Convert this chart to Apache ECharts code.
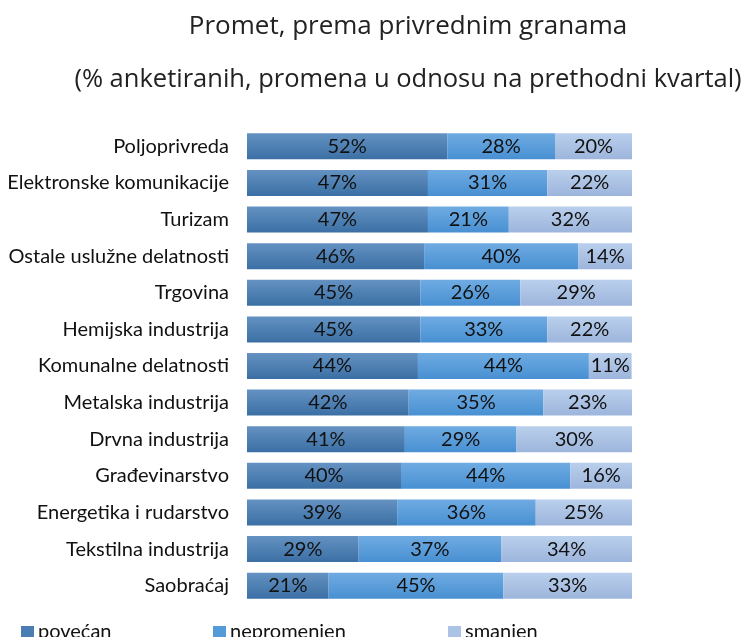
<!DOCTYPE html>
<html><head><meta charset="utf-8">
<script src="https://cdn.jsdelivr.net/npm/echarts@6/dist/echarts.min.js"></script>
<style>html,body{margin:0;padding:0;background:#fff}#c{width:742px;height:637px}</style>
</head><body><div id="c"></div>
<script>
const categories = ["Poljoprivreda","Elektronske komunikacije","Turizam","Ostale uslužne delatnosti","Trgovina","Hemijska industrija","Komunalne delatnosti","Metalska industrija","Drvna industrija","Građevinarstvo","Energetika i rudarstvo","Tekstilna industrija","Saobraćaj"];
const povecan    = [52,47,47,46,45,45,44.4,42,41,40,39,29,21.2];
const nepromenjen= [28,31,21,40,26,33,44.4,35,29,44,36,37,45.4];
const smanjen    = [20,22,32,14,29,22,11.1,23,30,16,25,34,33.4];
const seriesNames = ["povećan","nepromenjen","smanjen"];

const grad = (a,b)=>new echarts.graphic.LinearGradient(0,0,0,1,[{offset:0,color:a},{offset:1,color:b}]);
const styles = [
  {fill:grad('#6492c2','#3b6fa4'), solid:'#4a7db4'},
  {fill:grad('#6fabe2','#4890d2'), solid:'#559ad8'},
  {fill:grad('#b9cfec','#9db5dc'), solid:'#adc3e6'}
];
const chart = echarts.init(document.getElementById('c'));
const lbl = {show:true, position:'inside', color:'#111', fontFamily:'Lato', fontSize:20,
  formatter: p => Math.round(p.value)+'%'};
const mk = (name,data,i)=>({name, type:'bar', stack:'t', data, barWidth:26,
  itemStyle:{color:styles[i].fill}, label:lbl, emphasis:{disabled:true}});
const legendLeft = [21,213,448];
chart.setOption({
  animation:false,
  title:[
    {text:'Promet, prema privrednim granama', left:403, textAlign:'center', top:9,
     textStyle:{fontFamily:'Open Sans', fontWeight:'normal', fontSize:26, color:'#222'}},
    {text:'(% anketiranih, promena u odnosu na prethodni kvartal)', left:403, textAlign:'center', top:62,
     textStyle:{fontFamily:'Open Sans', fontWeight:'normal', fontSize:25.5, color:'#222'}}
  ],
  legend: seriesNames.map((n,i)=>({left:legendLeft[i], top:622, padding:0, itemWidth:13, itemHeight:12, icon:'rect',
    textStyle:{fontFamily:'Lato', fontSize:20, color:'#111', padding:[0,0,0,-1]},
    data:[{name:n, itemStyle:{color:styles[i].solid}}]})),
  grid:{left:247, right:110, top:128, bottom:33, containLabel:false},
  xAxis:{type:'value', min:0, max:100, show:false},
  yAxis:{type:'category', data:categories, inverse:true,
    axisLine:{show:false}, axisTick:{show:false},
    axisLabel:{fontFamily:'Lato', fontSize:20, color:'#111', margin:18}},
  series:[mk(seriesNames[0],povecan,0), mk(seriesNames[1],nepromenjen,1), mk(seriesNames[2],smanjen,2)]
});
</script></body></html>
